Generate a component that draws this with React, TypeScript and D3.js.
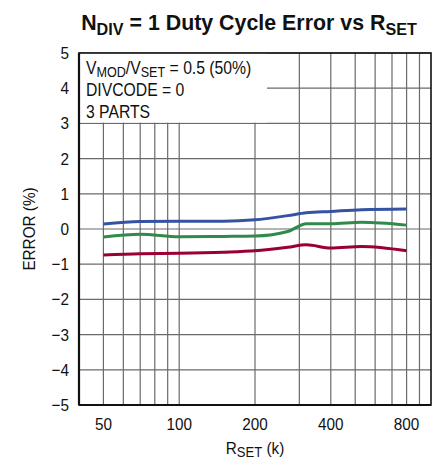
import React from 'react';
import * as d3 from 'd3';

const rsetPoints = [50, 70, 100, 150, 200, 270, 320, 400, 530, 800];
const partA = [0.14, 0.21, 0.22, 0.22, 0.26, 0.38, 0.46, 0.5, 0.55, 0.57];
const partB = [-0.23, -0.15, -0.22, -0.21, -0.2, -0.07, 0.15, 0.15, 0.19, 0.11];
const partC = [-0.74, -0.7, -0.69, -0.66, -0.62, -0.52, -0.45, -0.54, -0.5, -0.62];
const seriesColors = ['#3653a3', '#2f8a4c', '#9a0033'];

const xTicks = [50, 100, 200, 400, 800];
const xGrid = [50, 60, 70, 80, 90, 100, 200, 300, 400, 500, 600, 700, 800, 900];
const yTicks = [-5, -4, -3, -2, -1, 0, 1, 2, 3, 4, 5];

const FONT = "'Liberation Sans', Arial, sans-serif";
const SX = 0.9; // squeeze to look like a condensed face

// text squeezed horizontally around its anchor point
const T: React.FC<{ x: number; y: number; anchor?: string; size?: number; sx?: number; bold?: boolean; children: React.ReactNode }> =
  ({ x, y, anchor = 'start', size = 17, sx = SX, bold = false, children }) => (
    <g transform={`translate(${x},${y}) scale(${sx},1)`}>
      <text x={0} y={0} textAnchor={anchor} fontSize={size} fontWeight={bold ? 'bold' : 'normal'} fill="#111">{children}</text>
    </g>
  );

const App: React.FC = () => {
  const left = 79, right = 431, top = 53, bottom = 405;
  const x = d3.scaleLog().domain([40, 1000]).range([left, right]);
  const y = d3.scaleLinear().domain([-5, 5]).range([bottom, top]);

  const line = d3.line<[number, number]>()
    .x(d => x(d[0]))
    .y(d => y(d[1]))
    .curve(d3.curveMonotoneX);

  const series = [partA, partB, partC].map(vals => rsetPoints.map((r, i) => [r, vals[i]] as [number, number]));

  return (
    <svg width={438} height={459} style={{ position: 'absolute', left: 0, top: 0, background: '#fff' }}
      fontFamily={FONT}>
      <T x={249} y={30} anchor="middle" size={22.5} sx={0.95} bold>
        N<tspan fontSize={17} dy={5}>DIV</tspan><tspan dy={-5}> = 1 Duty Cycle Error vs R</tspan><tspan fontSize={17} dy={5}>SET</tspan>
      </T>

      {/* grid */}
      {xGrid.map(v => (
        <line key={'vx' + v} x1={x(v)} x2={x(v)} y1={top} y2={bottom} stroke="#6a6a6a" strokeWidth={1.2} />
      ))}
      {yTicks.map(v => (
        <line key={'hy' + v} x1={left} x2={right} y1={y(v)} y2={y(v)} stroke="#6a6a6a" strokeWidth={1.2} />
      ))}

      {/* annotation box */}
      <rect x={left} y={top} width={267 - left} height={y(3) - top - 0.8} fill="#fff" />
      <T x={86} y={73.5} size={17.5}>
        V<tspan fontSize={14} dy={3}>MOD</tspan><tspan dy={-3}>/V</tspan><tspan fontSize={14} dy={3}>SET</tspan><tspan dy={-3}> = 0.5 (50%)</tspan>
      </T>
      <T x={86} y={96} size={17.5}>DIVCODE = 0</T>
      <T x={86} y={117.5} size={17.5}>3 PARTS</T>

      {/* frame */}
      <rect x={left} y={top} width={right - left} height={bottom - top} fill="none" stroke="#111" strokeWidth={1.6} />
      <line x1={left} x2={left} y1={top} y2={bottom} stroke="#111" strokeWidth={2.2} />
      <line x1={left} x2={right} y1={bottom} y2={bottom} stroke="#111" strokeWidth={2.2} />

      {/* data */}
      {series.map((s, i) => (
        <path key={i} d={line(s) ?? ''} fill="none" stroke={seriesColors[i]} strokeWidth={3} />
      ))}

      {/* tick labels */}
      {yTicks.map(v => (
        <T key={'ty' + v} x={69} y={y(v) + 6} anchor="end">
          {v < 0 ? '\u2212' + Math.abs(v) : String(v)}
        </T>
      ))}
      {xTicks.map(v => (
        <T key={'tx' + v} x={x(v)} y={430} anchor="middle">{String(v)}</T>
      ))}

      <g transform={`translate(35,${y(0)}) rotate(-90) scale(${SX},1)`}>
        <text textAnchor="middle" fontSize={17} fill="#111">ERROR (%)</text>
      </g>
      <T x={255} y={454} anchor="middle">
        R<tspan fontSize={14.5} dy={3}>SET</tspan><tspan dy={-3}> (k)</tspan>
      </T>
    </svg>
  );
};

export default App;
